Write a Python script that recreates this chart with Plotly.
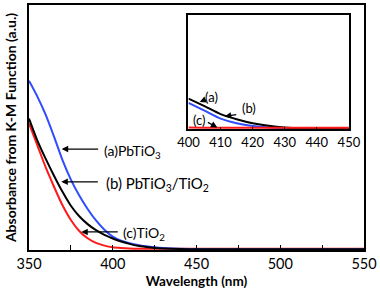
import plotly.graph_objects as go

# ---- main data ----
wavelength = [350, 355, 360, 365, 370, 375, 380, 385, 390, 395, 400, 405, 410,
              415, 420, 425, 430, 440, 450, 500, 550]
pbtio3 = [0.69, 0.625, 0.55, 0.46, 0.365, 0.285, 0.22, 0.165, 0.118, 0.08, 0.052,
          0.035, 0.025, 0.018, 0.012, 0.008, 0.005, 0.002, 0.001, 0.0, 0.0]
pbtio3_tio2 = [0.535, 0.445, 0.37, 0.30, 0.235, 0.178, 0.135, 0.103, 0.078, 0.059, 0.044,
               0.032, 0.022, 0.014, 0.009, 0.005, 0.003, 0.001, 0.0, 0.0, 0.0]
tio2 = [0.515, 0.425, 0.335, 0.255, 0.18, 0.12, 0.075, 0.045, 0.026, 0.015, 0.008,
        0.005, 0.003, 0.002, 0.002, 0.002, 0.002, 0.002, 0.002, 0.002, 0.002]

# ---- inset data ----
inset_wavelength = [400, 405, 410, 415, 420, 425, 430, 435, 440, 445, 450]
inset_pbtio3 = [0.228, 0.16, 0.09, 0.05, 0.025, 0.012, 0.004, 0.001, 0.0, 0.0, 0.0]
inset_pbtio3_tio2 = [0.266, 0.20, 0.13, 0.085, 0.05, 0.027, 0.012, 0.004, 0.001, 0.0, 0.0]
inset_tio2 = [0.012, 0.011, 0.010, 0.010, 0.010, 0.010, 0.010, 0.010, 0.010, 0.010, 0.010]

main_ticks = [350, 400, 450, 500, 550]
inset_ticks = [400, 410, 420, 430, 440, 450]

BLUE = "#2f4cff"
RED = "#ff1a1a"
BLACK = "#000000"
FONT = "Lato"

fig = go.Figure()
for y, c in [(tio2, RED), (pbtio3, BLUE), (pbtio3_tio2, BLACK)]:
    fig.add_trace(go.Scatter(x=wavelength, y=y, mode="lines",
                             line=dict(color=c, width=2, shape="spline", smoothing=0.6),
                             xaxis="x", yaxis="y", showlegend=False))
for y, c in [(inset_pbtio3, BLUE), (inset_pbtio3_tio2, BLACK), (inset_tio2, RED)]:
    fig.add_trace(go.Scatter(x=inset_wavelength, y=y, mode="lines",
                             line=dict(color=c, width=2, shape="spline", smoothing=0.6),
                             xaxis="x2", yaxis="y2", showlegend=False))

ann = []
def arrow(x, y, ax, ay, xref="x", yref="y"):
    ann.append(dict(x=x, y=y, xref=xref, yref=yref, text="", showarrow=True,
                    ax=ax, ay=ay, arrowhead=2, arrowsize=1, arrowwidth=1.3,
                    arrowcolor="black"))

def label(x, y, text, size, xref="x", yref="y"):
    ann.append(dict(x=x, y=y, xref=xref, yref=yref, text=text, showarrow=False,
                    xanchor="left", yanchor="middle",
                    font=dict(size=size, color="black", family=FONT)))

# main panel labels
arrow(369.5, 0.41, 38, 0)
label(393.8, 0.40, "(a)PbTiO<sub>3</sub>", 14)
arrow(369.3, 0.276, 38, 0)
label(395.0, 0.266, "(b) PbTiO<sub>3</sub>/TiO<sub>2</sub>", 15)
arrow(381.2, 0.071, 38, 0)
label(405.0, 0.064, "(c)TiO<sub>2</sub>", 14)
# inset labels
arrow(403.5, 0.235, 7, -3, "x2", "y2")
label(404.6, 0.28, "(a)", 13, "x2", "y2")
arrow(411.3, 0.11, 13, -2, "x2", "y2")
label(416.1, 0.183, "(b)", 13, "x2", "y2")
arrow(409.0, 0.012, -11, -6, "x2", "y2")
label(400.9, 0.08, "(c)", 13, "x2", "y2")

fig.update_layout(
    width=380, height=290,
    margin=dict(l=29, r=13, t=3, b=39),
    paper_bgcolor="white", plot_bgcolor="white",
    font=dict(family=FONT, color="black"),
    annotations=ann,
    xaxis=dict(domain=[0, 1], range=[350, 550], tickvals=main_ticks,
               ticks="inside", ticklen=5, tickwidth=1, tickcolor="black",
               minor=dict(dtick=25, ticks="inside", ticklen=5, tickcolor="black"),
               showline=True, linecolor="black", linewidth=1.5, mirror=True,
               showgrid=False, zeroline=False,
               tickfont=dict(size=14.5, family=FONT),
               title=dict(text="<b>Wavelength (nm)</b>", font=dict(size=13.5, family=FONT),
                          standoff=5)),
    yaxis=dict(domain=[0, 1], range=[-0.003, 1.0], showticklabels=False, ticks="",
               showline=True, linecolor="black", linewidth=1.5, mirror=True,
               showgrid=False, zeroline=False,
               title=dict(text="<b>Absorbance from K-M Function (a.u.)</b>",
                          font=dict(size=14, family=FONT), standoff=7)),
    xaxis2=dict(domain=[0.476, 0.955], anchor="y2", range=[400, 450], tickvals=inset_ticks,
                ticks="inside", ticklen=3, tickcolor="black",
                showline=True, linecolor="black", linewidth=1.5, mirror=True,
                showgrid=False, zeroline=False, tickfont=dict(size=13, family=FONT)),
    yaxis2=dict(domain=[0.492, 0.96], anchor="x2", range=[-0.005, 1.0],
                showticklabels=False, ticks="",
                showline=True, linecolor="black", linewidth=1.5, mirror=True,
                showgrid=False, zeroline=False),
)

fig.write_html("out.html", config={"displayModeBar": False},
               post_script="document.body.style.margin='0px';")
